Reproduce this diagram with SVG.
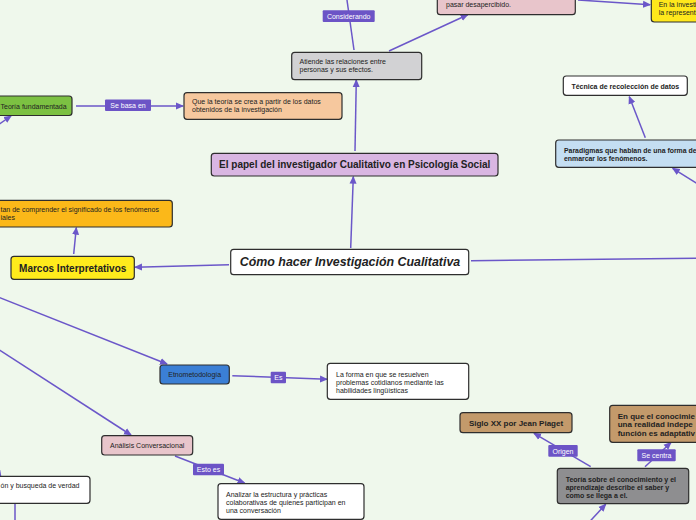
<svg xmlns="http://www.w3.org/2000/svg" width="696" height="520" viewBox="0 0 696 520">
<defs>
<marker id="arr" markerUnits="userSpaceOnUse" markerWidth="8" markerHeight="8" refX="7" refY="4" orient="auto">
<path d="M0,0.5 L8,4 L0,7.5 z" fill="#6b57c9"/>
</marker>
<style>
.n{stroke:#2e2e2e;stroke-width:1.2}
.t{font-family:"Liberation Sans",Arial,sans-serif;font-size:7px;fill:#222}
.b{font-weight:bold}
.c{stroke:#6b57c9;stroke-width:1.5;fill:none}
.a{marker-end:url(#arr)}
.lb{fill:#6c54c6}
.lt{font-family:"Liberation Sans",Arial,sans-serif;font-size:7px;fill:#fff;text-anchor:middle}
.m{text-anchor:middle}
</style>
</defs>
<rect width="696" height="520" fill="#eff8ec"/>
<g id="connectors">
<line class="c" x1="354" y1="50" x2="346.7" y2="-2"/>
<line class="c a" x1="389" y1="51" x2="467.7" y2="14.7"/>
<line class="c a" x1="578" y1="0" x2="650" y2="4.7"/>
<line class="c a" x1="355" y1="151" x2="356.3" y2="80"/>
<line class="c a" x1="350.7" y1="248" x2="353.3" y2="176.7"/>
<line class="c a" x1="76" y1="106" x2="183" y2="106"/>
<line class="c a" x1="-2" y1="125" x2="11" y2="116"/>
<line class="c a" x1="229" y1="264.7" x2="135" y2="267.3"/>
<line class="c a" x1="73.7" y1="254" x2="76.3" y2="227.7"/>
<line class="c" x1="471" y1="260.7" x2="698" y2="258.3"/>
<line class="c a" x1="645.3" y1="137.7" x2="629.3" y2="96.7"/>
<line class="c a" x1="698" y1="184" x2="672.7" y2="168.3"/>
<line class="c a" x1="-2" y1="297" x2="167" y2="364"/>
<line class="c a" x1="-2" y1="349" x2="131" y2="435"/>
<line class="c a" x1="232.3" y1="375.7" x2="327" y2="379.3"/>
<line class="c a" x1="175" y1="456" x2="244.5" y2="483"/>
<line class="c" x1="15" y1="504" x2="15" y2="522"/>
<line class="c" x1="-0.5" y1="470" x2="0.5" y2="476"/>
<line class="c a" x1="590.7" y1="466.7" x2="534" y2="433.3"/>
<line class="c a" x1="645" y1="466.7" x2="671" y2="442.5"/>
<line class="c a" x1="589.3" y1="522" x2="605.7" y2="504.3"/>
<rect class="lb" x="322.7" y="10.3" width="52" height="11.7" rx="1"/>
<text class="lt" x="348.7" y="19">Considerando</text>
<rect class="lb" x="105" y="99.5" width="46" height="11.5" rx="1"/>
<text class="lt" x="128" y="108">Se basa en</text>
<rect class="lb" x="270.7" y="371.7" width="15.3" height="11.6" rx="1"/>
<text class="lt" x="278.4" y="380">Es</text>
<rect class="lb" x="193" y="463.7" width="31" height="11.6" rx="1"/>
<text class="lt" x="208.5" y="472">Esto es</text>
<rect class="lb" x="548.3" y="445" width="29.4" height="11.7" rx="1"/>
<text class="lt" x="563" y="453.5">Origen</text>
<rect class="lb" x="637.3" y="449.3" width="38.4" height="12" rx="1"/>
<text class="lt" x="656.5" y="458">Se centra</text>
</g>
<g id="central">
<rect class="n" x="230.7" y="249.3" width="238" height="25.4" rx="3" fill="#fff"/>
<text class="t b m" x="350" y="266.3" style="font-size:12.4px;font-style:italic">Cómo hacer Investigación Cualitativa</text>
</g>
<g id="papel">
<rect class="n" x="211.3" y="153.3" width="286.7" height="22.7" rx="3" fill="#d9b6e2"/>
<text class="t b m" x="354.7" y="168.2" style="font-size:10px">El papel del investigador Cualitativo en Psicología Social</text>
</g>
<g id="atiende">
<rect class="n" x="291.7" y="52.3" width="130" height="27.4" rx="3" fill="#d2d2d4"/>
<text class="t" x="299.5" y="64">Atiende las relaciones entre</text>
<text class="t" x="299.5" y="72">personas y sus efectos.</text>
</g>
<g id="desapercibido">
<rect class="n" x="437.3" y="-12" width="138" height="26.7" rx="3" fill="#e8c5cb"/>
<text class="t" x="446" y="7">pasar desapercibido.</text>
</g>
<g id="investigacion">
<rect class="n" x="651.3" y="-12" width="60" height="34" rx="3" fill="#ffe81c"/>
<text class="t" x="658.7" y="7">En la investi</text>
<text class="t" x="658.7" y="15">la represent</text>
</g>
<g id="teoria-fundamentada">
<rect class="n" x="-12" y="96" width="84" height="19.5" rx="3" fill="#7cc142"/>
<text class="t" x="0.5" y="108.5">Teoría fundamentada</text>
</g>
<g id="que-la-teoria">
<rect class="n" x="184" y="92.7" width="158" height="26.6" rx="3" fill="#f6c89e"/>
<text class="t" x="192" y="103.5">Que la teoría se crea a partir de los datos</text>
<text class="t" x="192" y="111.5">obtenidos de la investigación</text>
</g>
<g id="comprender">
<rect class="n" x="-16" y="200.3" width="188.3" height="26.7" rx="3" fill="#fbb819"/>
<text class="t" x="0.5" y="212">tan de comprender el significado de los fenómenos</text>
<text class="t" x="0.5" y="220">iales</text>
</g>
<g id="marcos">
<rect class="n" x="11" y="256.3" width="123.3" height="23" rx="3" fill="#ffeb1c"/>
<text class="t b m" x="72.7" y="271.5" style="font-size:10px">Marcos Interpretativos</text>
</g>
<g id="tecnica">
<rect class="n" x="563.3" y="76" width="124" height="19.3" rx="3" fill="#fff"/>
<text class="t b m" x="625.3" y="88.5">Técnica de recolección de datos</text>
</g>
<g id="paradigmas">
<rect class="n" x="555.7" y="140" width="160" height="27.3" rx="3" fill="#c4def2"/>
<text class="t b" x="564" y="153" style="font-size:6.9px">Paradigmas que hablan de una forma de</text>
<text class="t b" x="564" y="161" style="font-size:6.9px">enmarcar los fenómenos.</text>
</g>
<g id="etnometodologia">
<rect class="n" x="160" y="365" width="69.3" height="19" rx="3" fill="#3b7fd5"/>
<text class="t m" x="194.7" y="377">Etnometodología</text>
</g>
<g id="la-forma">
<rect class="n" x="327.3" y="363.3" width="141.4" height="36" rx="3" fill="#fff"/>
<text class="t" x="336" y="376.5">La forma en que se resuelven</text>
<text class="t" x="336" y="384.5">problemas cotidianos mediante las</text>
<text class="t" x="336" y="392.5">habilidades lingüísticas</text>
</g>
<g id="analisis">
<rect class="n" x="101.7" y="435.7" width="91" height="19.3" rx="3" fill="#e8c5cb"/>
<text class="t m" x="147.2" y="448">Análisis Conversacional</text>
</g>
<g id="analizar">
<rect class="n" x="218" y="483.7" width="146" height="35.6" rx="3" fill="#fff"/>
<text class="t" x="226" y="496.5">Analizar la estructura y prácticas</text>
<text class="t" x="226" y="504.5">colaborativas de quienes participan en</text>
<text class="t" x="226" y="512.5">una conversación</text>
</g>
<g id="verdad">
<rect class="n" x="-12" y="476.3" width="102" height="27" rx="3" fill="#fff"/>
<text class="t" x="0.5" y="488">ón y busqueda de verdad</text>
</g>
<g id="siglo">
<rect class="n" x="460" y="412.7" width="112" height="20" rx="3" fill="#c39a6b"/>
<text class="t b m" x="516" y="425.7" style="font-size:8px">Siglo XX por Jean Piaget</text>
</g>
<g id="en-que">
<rect class="n" x="609.7" y="405.3" width="100" height="37" rx="3" fill="#c39a6b"/>
<text class="t b" x="617.7" y="418.5" style="font-size:8px">En que el conocimie</text>
<text class="t b" x="617.7" y="427" style="font-size:8px">una realidad indepe</text>
<text class="t b" x="617.7" y="435.5" style="font-size:8px">función es adaptativ</text>
</g>
<g id="teoria-sobre">
<rect class="n" x="557.3" y="468.3" width="131.4" height="35.4" rx="3" fill="#8e8e90"/>
<text class="t b" x="565.7" y="481.5">Teoría sobre el conocimiento y el</text>
<text class="t b" x="565.7" y="489.5">aprendizaje describe el saber y</text>
<text class="t b" x="565.7" y="497.5">como se llega a el.</text>
</g>
</svg>
